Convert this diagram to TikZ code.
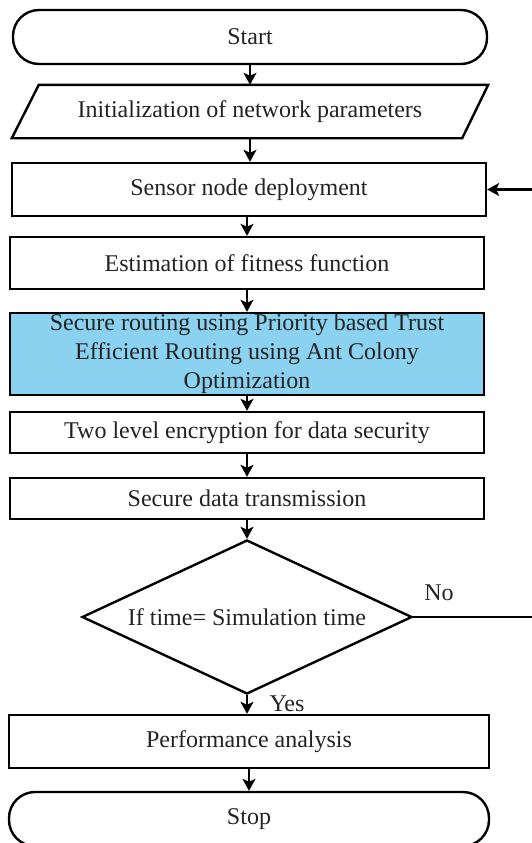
\documentclass[tikz,border=0pt]{standalone}
\usepackage{fontspec}
\setmainfont{Liberation Serif}
\usetikzlibrary{arrows.meta,shapes.geometric}
\definecolor{routeblue}{RGB}{138,210,240}
\definecolor{inkgray}{RGB}{35,35,35}
\begin{document}
\begin{tikzpicture}[x=1pt,y=-1pt,
  every node/.style={font=\fontsize{24}{29}\selectfont, inner sep=0pt, text=inkgray},
  flowline/.style={line width=2.4pt, line join=miter},
  flowarrow/.style={flowline, -{Stealth[length=12pt,width=13pt,inset=3pt]}},
  procbox/.style={draw, flowline, rectangle, minimum width=474pt, align=center},
  termbox/.style={draw, flowline, rectangle, rounded corners=26pt, minimum width=474pt, minimum height=54pt},
  decbox/.style={draw, flowline, diamond, minimum width=330pt, minimum height=154pt, aspect=2.14},
  label/.style={font=\fontsize{24}{29}\selectfont}
]
\useasboundingbox (0,0) rectangle (531,843);

% terminals and process steps
\node[termbox] (start) at (250,37) {Start};
\node[minimum width=476pt, minimum height=53pt] (init) at (250,111.5) {Initialization of network parameters};
\draw[flowline] (init.south west) -- ([xshift=27pt]init.north west) -- (init.north east) -- ([xshift=-26pt]init.south east) -- cycle;
\node[procbox, minimum height=53pt] (deploy) at (249,189.5) {Sensor node deployment};
\node[procbox, minimum height=52pt] (fitness) at (247,263) {Estimation of fitness function};
\node[procbox, minimum height=82pt, fill=routeblue] (route) at (247,354)
  {Secure routing using Priority based Trust\\Efficient Routing using Ant Colony\\Optimization};
\node[procbox, minimum height=41pt] (encrypt) at (247,432.5) {Two level encryption for data security};
\node[procbox, minimum height=41pt] (transmit) at (247,498.5) {Secure data transmission};
\node[decbox] (check) at (247,617) {If time= Simulation time};
\node[procbox, minimum width=480pt, minimum height=53pt] (perf) at (249,741.5) {Performance analysis};
\node[termbox, minimum width=480pt] (stop) at (249,819) {Stop};

% main flow
\draw[flowarrow] (start.south) -- (start.south |- init.north);
\draw[flowarrow] (init.south -| start.south) -- (start.south |- deploy.north);
\draw[flowarrow] (deploy.south -| fitness.north) -- (fitness.north);
\draw[flowarrow] (fitness.south) -- (route.north);
\draw[flowarrow] (route.south) -- (encrypt.north);
\draw[flowarrow] (encrypt.south) -- (transmit.north);
\draw[flowarrow] (transmit.south) -- (check.north);
\draw[flowarrow] (check.south) -- (check.south |- perf.north);
\draw[flowarrow] (perf.south) -- (stop.north);

% loop back when simulation time not reached
\coordinate (loop) at (534,400);
\draw[flowarrow] (check.east) -| (loop) |- (deploy.east);

\node[label] (no) at (439,593) {No};
\node[label] (yes) at (287,704) {Yes};
\end{tikzpicture}
\end{document}
